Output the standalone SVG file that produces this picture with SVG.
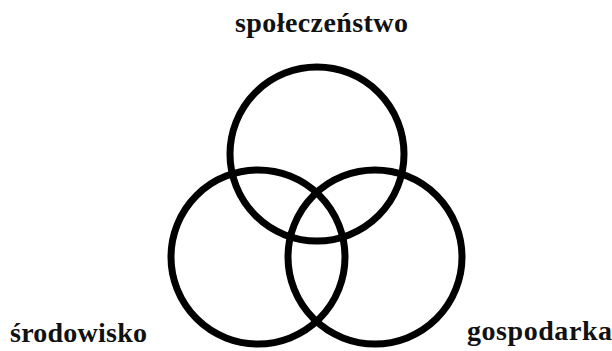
<svg xmlns="http://www.w3.org/2000/svg" width="612" height="351" viewBox="0 0 612 351">
<style>
.c{fill:none;stroke:#000;stroke-width:7}
.t{font-family:'Liberation Serif','Times New Roman',Times,serif;font-weight:700;font-size:28px;fill:#111}
</style>
<rect width="612" height="351" fill="#fff"/>
<g id="spoleczenstwo"><circle class="c" cx="317" cy="154" r="87"/><text class="t" x="235" y="32" textLength="173" lengthAdjust="spacing">społeczeństwo</text></g>
<g id="srodowisko"><circle class="c" cx="258" cy="257" r="87"/><text class="t" x="10" y="342" textLength="137" lengthAdjust="spacing">środowisko</text></g>
<g id="gospodarka"><circle class="c" cx="375" cy="257" r="87"/><text class="t" x="467" y="340" textLength="145" lengthAdjust="spacing">gospodarka</text></g>
<g id="connectors"/>
</svg>
